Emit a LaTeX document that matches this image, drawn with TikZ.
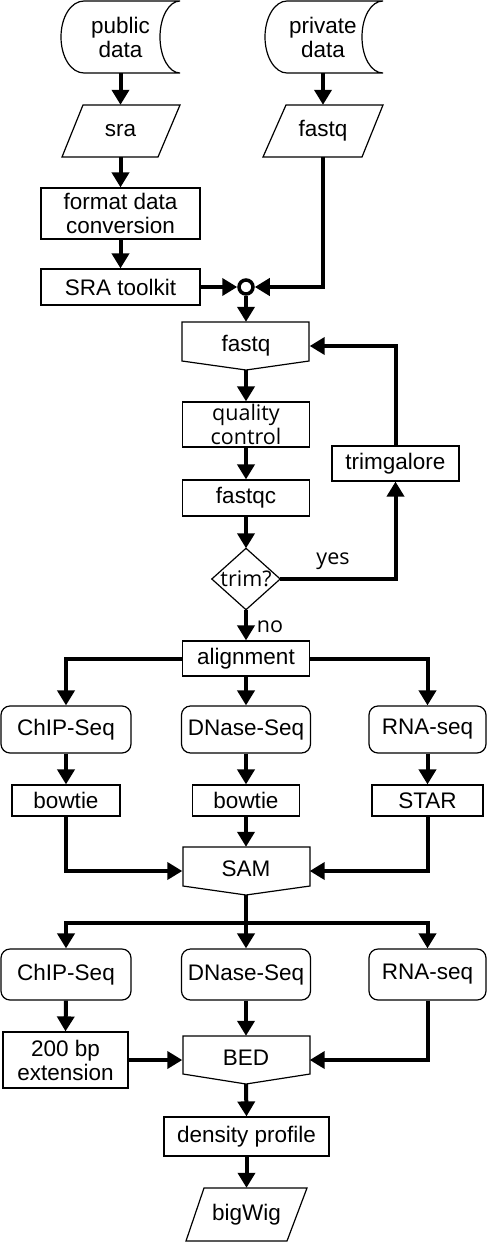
\documentclass[tikz,border=0pt]{standalone}
\usepackage{fontspec}
\setmainfont{Liberation Sans}
\newfontfamily\osans{Open Sans}
\usetikzlibrary{arrows.meta,calc}
\begin{document}
\begin{tikzpicture}[x=1pt,y=-1pt,
  every node/.style={font=\fontsize{22.5}{24}\selectfont, inner sep=0pt, align=center},
  plain/.style={minimum width=#1},
  box/.style={draw, line width=1.2pt, fill=white, minimum width=#1},
  rbox/.style={draw, line width=1.2pt, fill=white, rounded corners=9pt, minimum width=#1},
  outl/.style={draw, line width=1.2pt, fill=white, line join=miter},
  osf/.style={font=\osans\fontsize{21.5}{24}\selectfont},
  conn/.style={line width=4pt, line join=miter, -{Triangle[length=15pt,width=17pt]}},
  wire/.style={line width=4pt, line join=miter}
]
\fill[white] (0,0) rectangle (488,1242);
\useasboundingbox (0,0) rectangle (488,1242);

% ---- outlines of custom shapes ----
\draw[outl] (84,1) -- (180,1) .. controls (169,1) and (160,17) .. (160,37) .. controls (160,57) and (169,73) .. (180,73) -- (84,73) .. controls (71,73) and (61,57) .. (61,37) .. controls (61,17) and (71,1) .. (84,1) -- cycle;
\draw[outl] (287,1) -- (383,1) .. controls (371,1) and (362,17) .. (362,37) .. controls (362,57) and (371,73) .. (383,73) -- (287,73) .. controls (275,73) and (265,57) .. (265,37) .. controls (265,17) and (275,1) .. (287,1) -- cycle;
\draw[outl] (83,105) -- (180,105) -- (158,157) -- (62,157) -- cycle;
\draw[outl] (286,105) -- (383,105) -- (362,157) -- (263,157) -- cycle;
\draw[outl] (182,322) -- (309,322) -- (309,361) -- (246,370) -- (182,361) -- cycle;
\draw[outl] (183,847) -- (310,847) -- (310,886) -- (246,895) -- (183,886) -- cycle;
\draw[outl] (183,1036) -- (310,1036) -- (310,1074) -- (246,1084) -- (183,1074) -- cycle;
\draw[outl] (204,1188) -- (307,1188) -- (287,1241) -- (186,1241) -- cycle;

% ---- nodes ----
\node[plain=119, minimum height=72] (pub) at (120.5,37) {public\\data};
\node[plain=118, minimum height=72] (priv) at (323,37) {private\\data};
\node[plain=118, minimum height=52] (sra) at (120.5,131) {sra};
\node[plain=120, minimum height=52] (fqa) at (323,131) {fastq};
\node[box=159, minimum height=51] (fdc) at (120.5,213.5) {format data\\conversion};
\node[box=159, minimum height=36] (srat) at (120.5,287) {SRA toolkit};
\node[circle, draw, line width=3.5pt, fill=white, minimum size=14] (merge) at (246,287) {};
\node[plain=127, minimum height=48] (fqb) at (246,346) {\raisebox{4pt}{fastq}};
\node[box=127, minimum height=45, osf] (qc) at (246,424.5) {quality\\control};
\node[box=127, minimum height=36] (fqc) at (246,498) {fastqc};
\node[plain=68, minimum height=61] (trim) at (246,579) {};
\draw[outl] (trim.north) -- (trim.east) -- (trim.south) -- (trim.west) -- cycle;
\node[osf] (trimtxt) at (246,579) {trim?};
\node[box=127, minimum height=35] (trimg) at (395.5,463.5) {trimgalore};
\node[osf] (yes) at (333,561) {yes};
\node[osf] (no) at (270,627) {no};
\node[box=127, minimum height=35] (align) at (246,658.5) {alignment};
\node[rbox=130, minimum height=47] (chipa) at (66,729.5) {ChIP-Seq};
\node[rbox=129, minimum height=47] (dnasea) at (246,729.5) {DNase-Seq};
\node[rbox=117, minimum height=47] (rnaa) at (427.5,729.5) {RNA-seq};
\node[box=108, minimum height=31] (bowa) at (66,800.5) {bowtie};
\node[box=107, minimum height=31] (bowb) at (246,800.5) {bowtie};
\node[box=111, minimum height=31] (star) at (427.5,800.5) {STAR};
\node[plain=127, minimum height=48] (sam) at (246,871) {\raisebox{4pt}{SAM}};
\coordinate (split) at (246,923);
\node[rbox=130, minimum height=51] (chipb) at (66,974.5) {ChIP-Seq};
\node[rbox=129, minimum height=51] (dnaseb) at (246,974.5) {DNase-Seq};
\node[rbox=117, minimum height=51] (rnab) at (427.5,974.5) {RNA-seq};
\node[box=125, minimum height=56] (ext) at (65.5,1060) {200 bp\\extension};
\node[plain=127, minimum height=48] (bed) at (246,1060) {\raisebox{5pt}{BED}};
\node[box=165, minimum height=39] (dens) at (246.5,1136.5) {density profile};
\node[plain=121, minimum height=53] (bigwig) at (246.5,1214.5) {bigWig};

% ---- connectors ----
\draw[conn] (pub.south) -- (sra.north);
\draw[conn] (sra.south) -- (fdc.north);
\draw[conn] (fdc.south) -- (srat.north);
\draw[conn] (priv.south) -- (fqa.north);
\draw[conn] (fqa.south) |- (merge.east);
\draw[conn] (srat.east) -- (merge.west);
\draw[conn] (merge.south) -- (fqb.north);
\draw[conn] (fqb.south) -- (qc.north);
\draw[conn] (qc.south) -- (fqc.north);
\draw[conn] (fqc.south) -- (trim.north);
\draw[conn] (trim.east) -| (trimg.south);
\draw[conn] (trimg.north) |- (fqb.east);
\draw[conn] (trim.south) -- (align.north);
\draw[conn] (align.west) -| (chipa.north);
\draw[conn] (align.south) -- (dnasea.north);
\draw[conn] (align.east) -| (rnaa.north);
\draw[conn] (chipa.south) -- (bowa.north);
\draw[conn] (dnasea.south) -- (bowb.north);
\draw[conn] (rnaa.south) -- (star.north);
\draw[conn] (bowa.south) |- (sam.west);
\draw[conn] (bowb.south) -- (sam.north);
\draw[conn] (star.south) |- (sam.east);
\draw[wire] (sam.south) -- (split);
\draw[conn] (split) -| (chipb.north);
\draw[conn] (split) -- (dnaseb.north);
\draw[conn] (split) -| (rnab.north);
\draw[conn] (chipb.south) -- (ext.north);
\draw[conn] (dnaseb.south) -- (bed.north);
\draw[conn] (ext.east) -- (bed.west);
\draw[conn] (rnab.south) |- (bed.east);
\draw[conn] (bed.south) -- (dens.north);
\draw[conn] (dens.south) -- (bigwig.north);
\end{tikzpicture}
\end{document}
